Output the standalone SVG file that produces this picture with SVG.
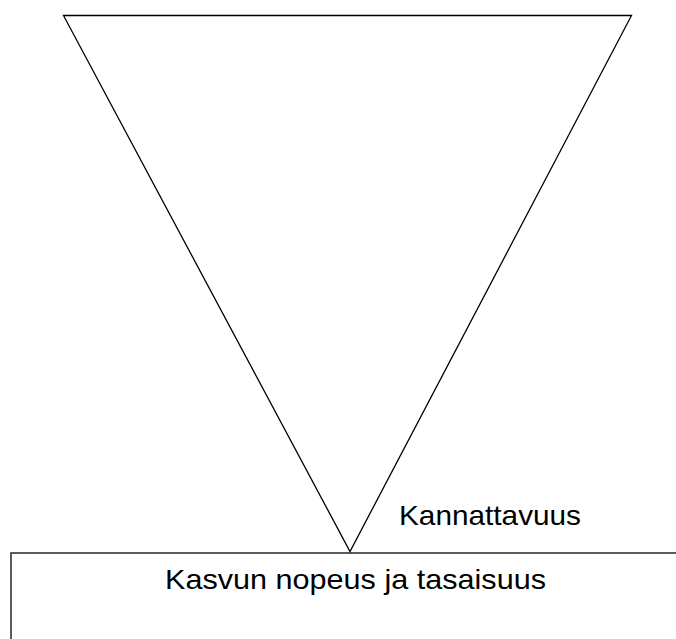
<svg xmlns="http://www.w3.org/2000/svg" width="676" height="639" viewBox="0 0 676 639">
<style>
.ln{fill:none;stroke:#000;stroke-width:1.3}
.bx{fill:#fff;stroke:#333;stroke-width:1.6}
.t{font-family:"Liberation Sans",Arial,sans-serif;font-size:28px;fill:#000}
</style>
<rect width="676" height="639" fill="#fff"/>
<g id="box">
<rect class="bx" x="11" y="553" width="700" height="120"/>
<text class="t" x="165" y="589" textLength="381" lengthAdjust="spacingAndGlyphs">Kasvun nopeus ja tasaisuus</text>
</g>
<g id="triangle">
<polygon class="ln" points="63.5,15.5 631.5,15.5 350,551.5" stroke-linejoin="miter"/>
</g>
<g id="label">
<text class="t" x="399" y="525" textLength="182" lengthAdjust="spacingAndGlyphs">Kannattavuus</text>
</g>
</svg>
